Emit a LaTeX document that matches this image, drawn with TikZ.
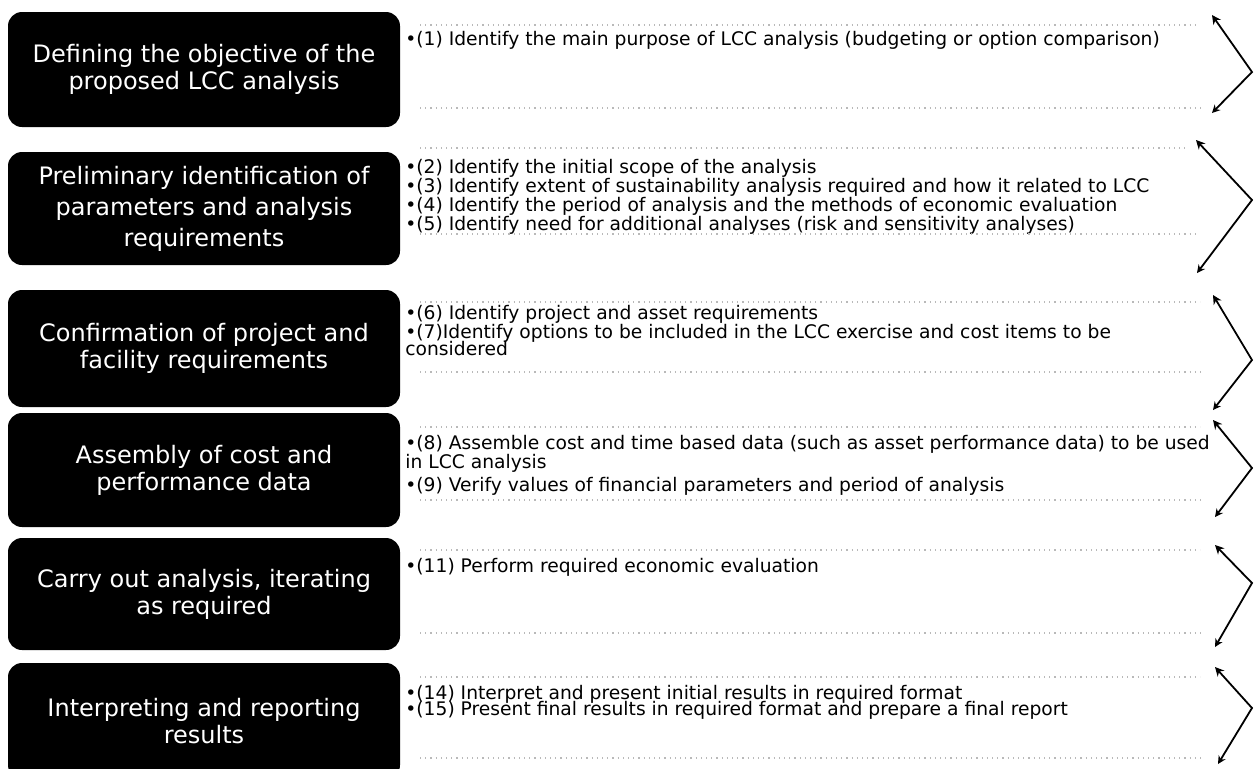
\documentclass[tikz,border=0pt]{standalone}
\usepackage{fontspec}
\setmainfont{DejaVu Sans}
\usetikzlibrary{arrows.meta}

\tikzset{
  stagebox/.style={fill=black, rounded corners=7pt, text=white, align=center,
    minimum width=196pt, inner sep=0pt, font=\fontsize{12}{13.5}\selectfont},
  itemtext/.style={anchor=north west, inner sep=0pt, align=left,
    font=\fontsize{9.35}{9.5}\selectfont},
  rowdots/.style={gray!55, dotted, line width=0.6pt},
  chevronline/.style={line width=0.9pt, {Stealth[length=4.5pt,width=4.5pt]}-{Stealth[length=4pt,width=4pt]}}
}

\begin{document}
\begin{tikzpicture}[x=0.5pt, y=-0.5pt]
\useasboundingbox (0,0) rectangle (1255,768);
\clip (0,0) rectangle (1255,768);

\node[stagebox, minimum height=57.5pt] (define) at (204,69.5) {Defining the objective of the\\proposed LCC analysis};
\node[stagebox, minimum height=56.5pt, font=\fontsize{12}{15.5}\selectfont] (prelim) at (204,208.5) {Preliminary identification of\\parameters and analysis\\requirements};
\node[stagebox, minimum height=58.5pt] (confirm) at (204,348.5) {Confirmation of project and\\facility requirements};
\node[stagebox, minimum height=57pt] (assemble) at (204,470) {Assembly of cost and\\performance data};
\node[stagebox, minimum height=56pt] (analyse) at (204,594) {Carry out analysis, iterating\\as required};
\node[stagebox, minimum height=58pt] (report) at (204,721) {Interpreting and reporting\\results};

\node[itemtext] (defineitems) at (405,31) {•(1) Identify the main purpose of LCC analysis (budgeting or option comparison)};
\node[itemtext] (prelimitems) at (405,159) {•(2) Identify the initial scope of the analysis\\
•(3) Identify extent of sustainability analysis required and how it related to LCC\\
•(4) Identify the period of analysis and the methods of economic evaluation\\
•(5) Identify need for additional analyses (risk and sensitivity analyses)};
\node[itemtext] (confirmitems) at (405,305) {•(6) Identify project and asset requirements\\
•(7)Identify options to be included in the LCC exercise and cost items to be\\[-1pt]
considered};
\node[itemtext] (assembleitems) at (405,435) {•(8) Assemble cost and time based data (such as asset performance data) to be used\\
in LCC analysis\\[2pt]
•(9) Verify values of financial parameters and period of analysis};
\node[itemtext] (analyseitems) at (405,558) {•(11) Perform required economic evaluation};
\node[itemtext] (reportitems) at (405,685) {•(14) Interpret and present initial results in required format\\[-1.5pt]
•(15) Present final results in required format and prepare a final report};

\draw[rowdots] (420,25) -- (1195,25);
\draw[rowdots] (420,108) -- (1205,108);
\draw[chevronline] (1212,15) -- (1252,72) -- (1212,113);

\draw[rowdots] (420,148) -- (1185,148);
\draw[rowdots] (420,234) -- (1195,234);
\draw[chevronline] (1196,140) -- (1252,200) -- (1197,273);

\draw[rowdots] (420,302) -- (1200,302);
\draw[rowdots] (420,372) -- (1205,372);
\draw[chevronline] (1213,295) -- (1252,360) -- (1213,410);

\draw[rowdots] (420,427) -- (1200,427);
\draw[rowdots] (420,500) -- (1205,500);
\draw[chevronline] (1213,420) -- (1252,468) -- (1215,517);

\draw[rowdots] (420,550) -- (1200,550);
\draw[rowdots] (420,633) -- (1205,633);
\draw[chevronline] (1215,545) -- (1252,583) -- (1215,647);

\draw[rowdots] (420,677) -- (1200,677);
\draw[rowdots] (420,758) -- (1205,758);
\draw[chevronline] (1215,667) -- (1252,708) -- (1218,764);
\end{tikzpicture}
\end{document}
